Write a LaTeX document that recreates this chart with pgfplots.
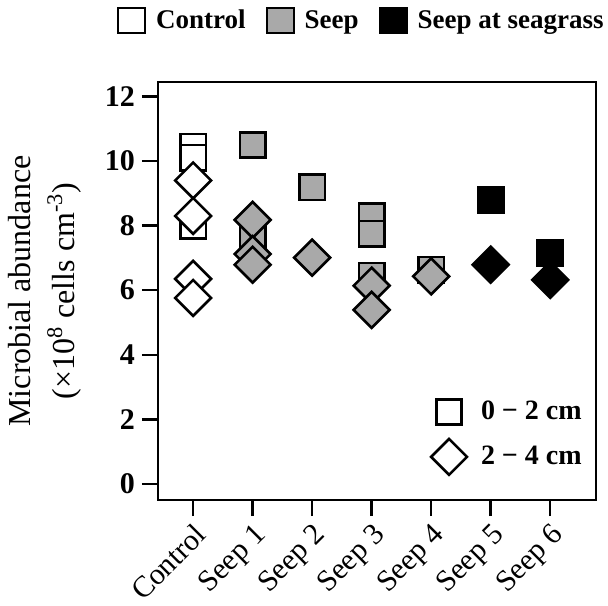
\documentclass[border=0pt]{standalone}
\usepackage{pgfplots}
\pgfplotsset{compat=1.18}
\usepackage{fontspec}
\setmainfont{Liberation Serif}
\definecolor{seepgray}{RGB}{169,169,169}

\pgfplotstableread{
x y
0 10.45
0 10.10
0 8.00
}\ctrlsq
\pgfplotstableread{
x y
0 9.40
0 8.30
0 6.35
0 5.76
}\ctrldi
\pgfplotstableread{
x y
1 10.50
1 7.63
2 9.19
3 8.30
3 7.75
3 6.45
4 6.63
}\seepsq
\pgfplotstableread{
x y
1 8.18
1 7.12
1 6.79
2 7.01
3 6.14
3 5.39
4 6.43
}\seepdi
\pgfplotstableread{
x y
5 8.80
6 7.15
}\grasssq
\pgfplotstableread{
x y
5 6.79
6 6.32
}\grassdi

\begin{document}
\begin{tikzpicture}
\path[use as bounding box] (-79pt,-52.5pt) rectangle (225pt,250pt);
\begin{axis}[
  scale only axis, width=219pt, height=209pt,
  at={(0,0)}, anchor=south west,
  xmin=-0.59, xmax=6.77, ymin=-0.5, ymax=12.45,
  xtick={0,1,2,3,4,5,6},
  xticklabels={Control, Seep 1, Seep 2, Seep 3, Seep 4, Seep 5, Seep 6},
  ytick={0,2,4,6,8,10,12},
  tick pos=left, tick align=outside, major tick length=8pt,
  axis line style={line width=1.2pt},
  every tick/.style={line width=1.2pt, black},
  /pgf/number format/assume math mode=true,
  yticklabel style={font=\fontsize{15}{18}\selectfont\bfseries},
  xticklabel style={font=\fontsize{15}{18}\selectfont, rotate=45, anchor=north east, inner sep=2pt},
  ylabel={Microbial abundance\\(×10\textsuperscript{8} cells cm\textsuperscript{-3})},
  ylabel style={at={(axis description cs:-0.258,0.5)}, anchor=center, rotate=0,
    align=center, font=\fontsize{16}{22}\selectfont},
  legend style={draw=none, fill=none, at={(rel axis cs:0.80,0.153)}, anchor=center,
    font=\fontsize{14}{17}\selectfont\bfseries, row sep=6pt,
    /tikz/every odd column/.append style={column sep=5pt}},
  legend cell align=left,
  mark size=6.35pt,
]
\addlegendimage{only marks, mark=square*, mark options={fill=white, draw=black, line width=1.3pt}}
\addlegendentry{0 − 2 cm}
\addlegendimage{only marks, mark=square*, mark options={fill=white, draw=black, line width=1.3pt, rotate=45}}
\addlegendentry{2 − 4 cm}

\addplot[only marks, mark=square*, mark options={fill=white, draw=black, line width=1.3pt}, forget plot] table {\ctrlsq};
\addplot[only marks, mark=square*, mark options={fill=white, draw=black, line width=1.3pt, rotate=45}, forget plot] table {\ctrldi};
\addplot[only marks, mark=square*, mark options={fill=seepgray, draw=black, line width=1.3pt}, forget plot] table {\seepsq};
\addplot[only marks, mark=square*, mark options={fill=seepgray, draw=black, line width=1.3pt, rotate=45}, forget plot] table {\seepdi};
\addplot[only marks, mark=square*, mark options={fill=black, draw=black, line width=1.3pt}, forget plot] table {\grasssq};
\addplot[only marks, mark=square*, mark options={fill=black, draw=black, line width=1.3pt, rotate=45}, forget plot] table {\grassdi};
\end{axis}

\begin{axis}[
  scale only axis, width=219pt, height=209pt,
  at={(0,0)}, anchor=south west,
  hide axis, xmin=0, xmax=1, ymin=0, ymax=1,
  legend columns=3,
  legend style={draw=none, fill=none, at={(axis description cs:-0.108,1.146)}, anchor=west,
    font=\fontsize{13.5}{16}\selectfont\bfseries,
    /tikz/every even column/.append style={column sep=8pt},
    /tikz/every odd column/.append style={column sep=3pt}},
  legend image code/.code={\draw[#1, draw=black, line width=1pt] (0pt,-6.25pt) rectangle (13.5pt,6.25pt);},
]
\addlegendimage{fill=white}
\addlegendentry{Control}
\addlegendimage{fill=seepgray}
\addlegendentry{Seep}
\addlegendimage{fill=black}
\addlegendentry{Seep at seagrass}
\end{axis}
\end{tikzpicture}
\end{document}
